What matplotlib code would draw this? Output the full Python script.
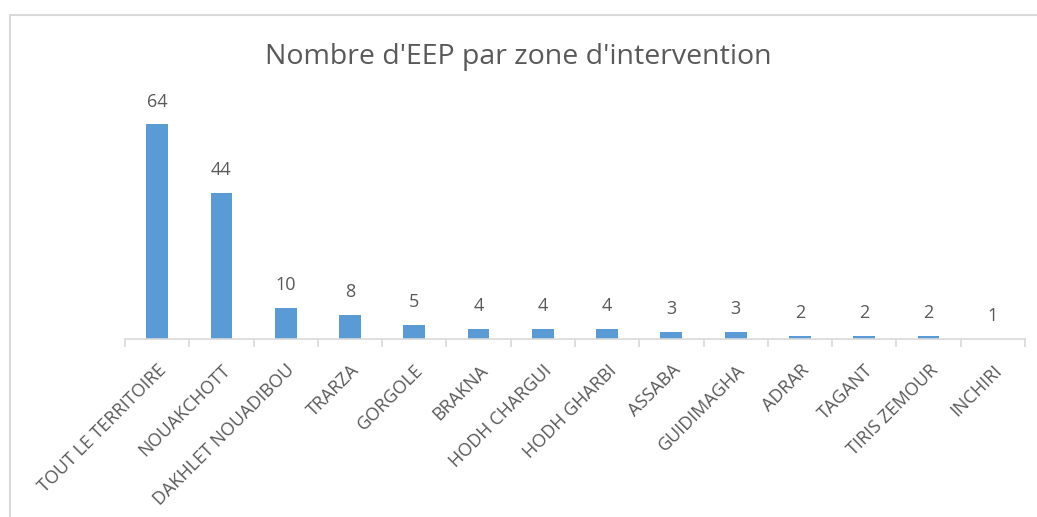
import numpy as np
import matplotlib
matplotlib.use("Agg")
import matplotlib.pyplot as plt
from matplotlib.patches import Rectangle

# data
zones = ["TOUT LE TERRITOIRE", "NOUAKCHOTT", "DAKHLET NOUADIBOU", "TRARZA",
         "GORGOLE", "BRAKNA", "HODH CHARGUI", "HODH GHARBI", "ASSABA",
         "GUIDIMAGHA", "ADRAR", "TAGANT", "TIRIS ZEMOUR", "INCHIRI"]
counts = [64, 44, 10, 8, 5, 4, 4, 4, 3, 3, 2, 2, 2, 1]

plt.rcParams['font.family'] = ['Open Sans', 'DejaVu Sans']
txt = '#595959'

fig = plt.figure(figsize=[10.37, 5.17], dpi=100)
# light frame like the spreadsheet chart area
fig.patches.append(Rectangle((10/1037, -0.1), 1.2, (517-15)/517 + 0.1,
                             transform=fig.transFigure, fill=False,
                             edgecolor='#d9d9d9', linewidth=1.5))

ax = fig.add_axes([125/1037, (517-339)/517, 900/1037, 0.4545])
x = np.arange(len(zones))
ax.bar(x, counts, width=0.34, color='#5b9bd5', bottom=0)
ax.set_xlim(-0.5, len(zones) - 0.5)
ax.set_ylim(1, 70)

for xi, v in zip(x, counts):
    ax.annotate(str(v), (xi, max(v, 1)), xytext=(0, 10), textcoords='offset points',
                ha='center', va='bottom', fontsize=13, color=txt)

for s in ['top', 'right', 'left']:
    ax.spines[s].set_visible(False)
ax.spines['bottom'].set_color('#d9d9d9')
ax.spines['bottom'].set_linewidth(1.2)
ax.set_yticks([])
ax.set_xticks(x)
ax.set_xticklabels(zones, rotation=45, ha='right', rotation_mode='anchor',
                   fontsize=13, color=txt)
ax.tick_params(axis='x', which='major', length=0, pad=16)
ax.set_xticks(np.arange(-0.5, len(zones)), minor=True)
ax.tick_params(axis='x', which='minor', length=6, color='#d9d9d9', width=1.2)

fig.text(0.5, 1 - 57/517, "Nombre d'EEP par zone d'intervention", ha='center',
         va='center', fontsize=20.5, color=txt)

fig.savefig('out.png', dpi=100)
